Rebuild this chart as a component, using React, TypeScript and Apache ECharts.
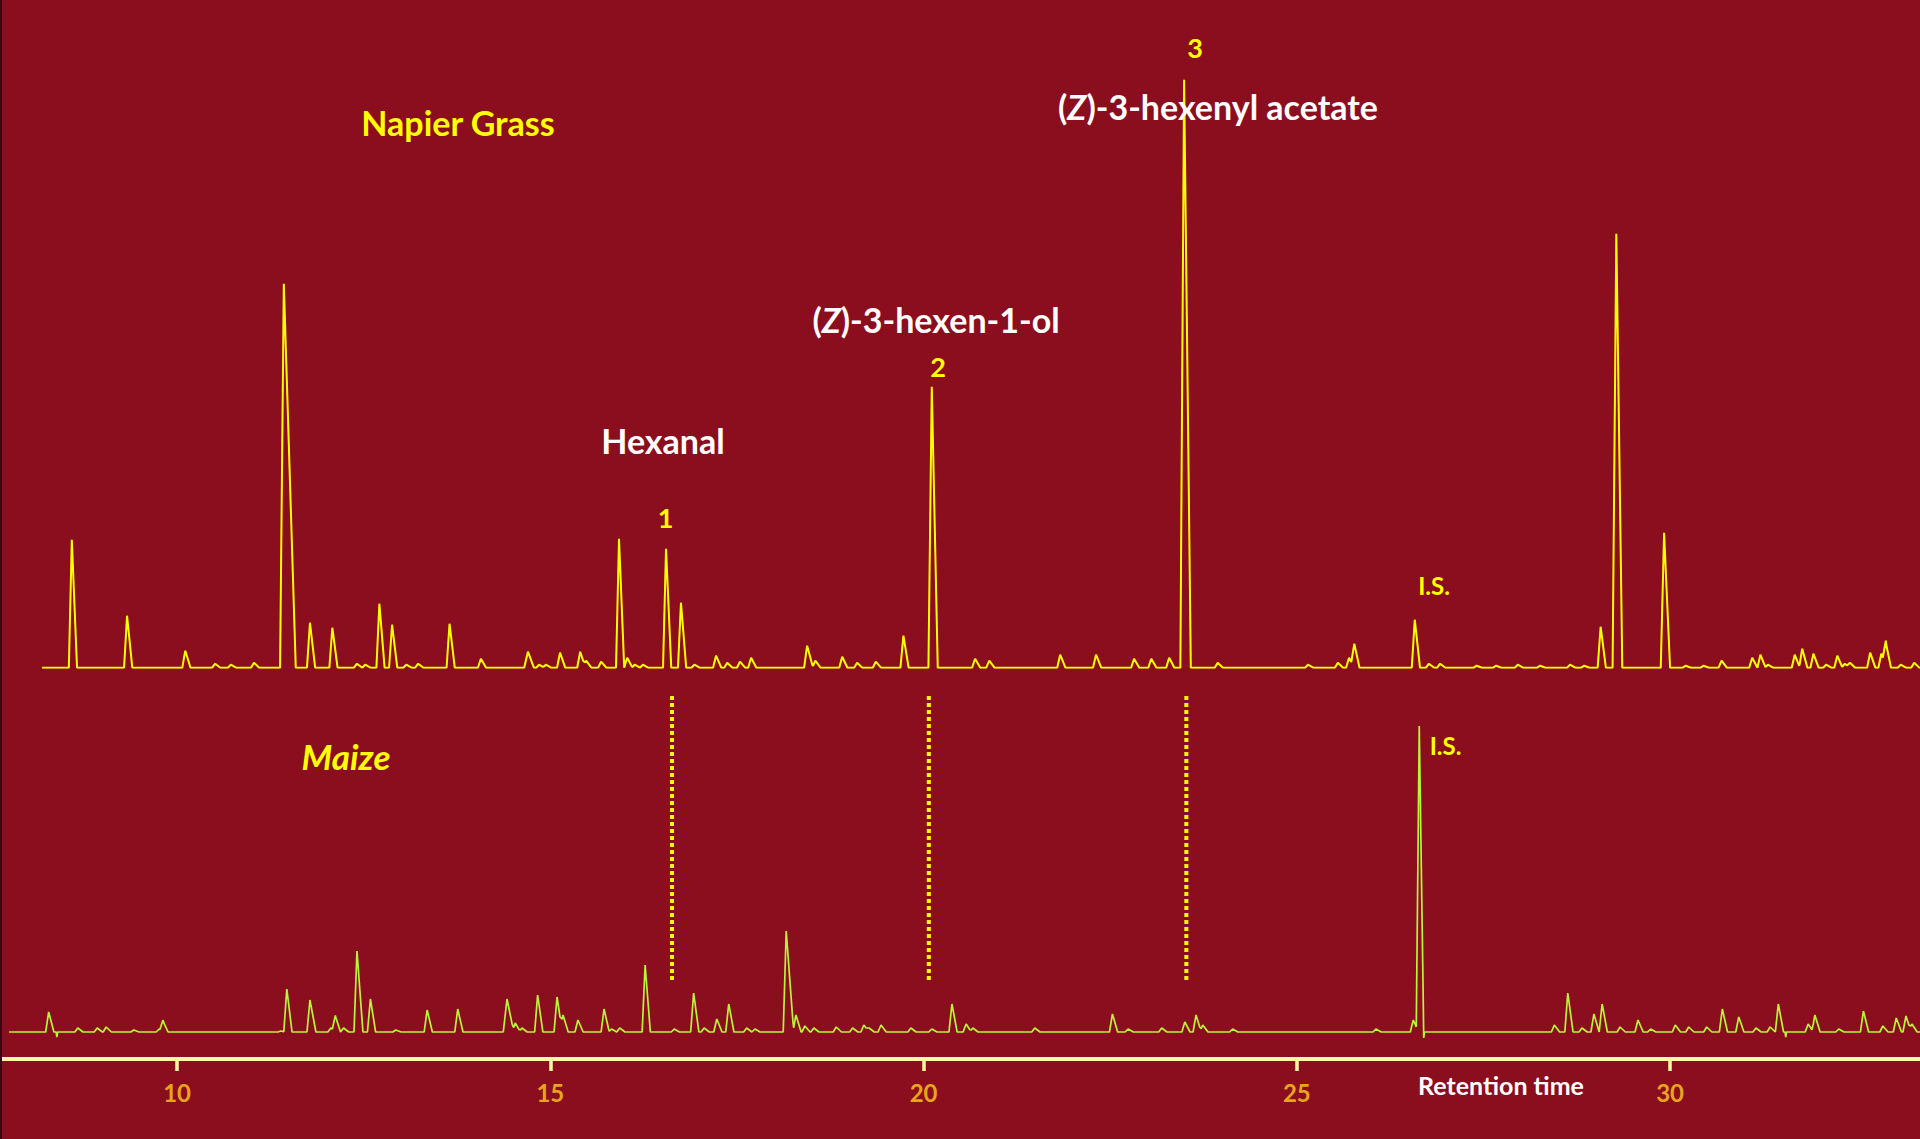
import React, { useEffect, useRef } from "react";
import * as echarts from "echarts";

// Retention-time window shown on the shared axis (minutes)
const RT_MIN = 7.628;
const RT_MAX = 33.348;
const RT_TICKS = [10, 15, 20, 25, 30];

// Napier grass headspace trace: [retention time, peak height, left half-width?, right half-width?]
const napierStart = 8.19;
const napierPeaks: number[][] = [
  [8.59, 128], [9.33, 52], [10.11, 17], [10.51, 4], [10.72, 3], [11.03, 5],
  [11.43, 384, 0.05, 0.16], [11.78, 45], [12.08, 40], [12.41, 4], [12.52, 3],
  [12.71, 64], [12.88, 43], [13.07, 3], [13.23, 4], [13.65, 44], [14.07, 9],
  [14.7, 16, 0.05, 0.08], [14.85, 3], [14.94, 3], [15.13, 15], [15.4, 16],
  [15.48, 7], [15.68, 6], [15.92, 129], [16.03, 10], [16.13, 3], [16.24, 3],
  [16.55, 119], [16.75, 65], [16.93, 3], [17.22, 12], [17.37, 5], [17.54, 6],
  [17.69, 10], [18.44, 22, 0.04, 0.08], [18.55, 7], [18.91, 11], [19.11, 5],
  [19.36, 6], [19.73, 32, 0.04, 0.07], [20.11, 281, 0.045, 0.08], [20.69, 9],
  [20.88, 7], [21.83, 13], [22.31, 13], [22.82, 9], [23.05, 9], [23.29, 10],
  [23.49, 588, 0.05, 0.09], [23.94, 5], [25.15, 3], [25.55, 5], [25.7, 10],
  [25.77, 24, 0.04, 0.07], [26.58, 48], [26.77, 4], [26.92, 4], [27.41, 2],
  [27.67, 2], [27.96, 3], [28.26, 2], [28.66, 3], [28.85, 2], [29.07, 41],
  [29.28, 434, 0.05, 0.08], [29.92, 135, 0.045, 0.08], [30.21, 2], [30.45, 2],
  [30.69, 7], [31.1, 10], [31.21, 13], [31.31, 3], [31.67, 13], [31.77, 19],
  [31.92, 14], [32.09, 3], [32.24, 12], [32.34, 4], [32.41, 5], [32.68, 15],
  [32.83, 14], [32.89, 25], [33.09, 3], [33.27, 5], [33.42, 30],
];

// Maize headspace trace
const maizeStart = 7.75;
const maizePeaks: number[][] = [
  [8.28, 20], [8.39, -5, 0.01, 0.01], [8.67, 4], [8.93, 4], [9.05, 5], [9.42, 2],
  [9.76, 3], [9.81, 11], [11.39, 1], [11.47, 43], [11.78, 32, 0.04, 0.08],
  [12.06, 4], [12.12, 16], [12.23, 4], [12.41, 81, 0.04, 0.08], [12.59, 33],
  [12.93, 2], [13.35, 22], [13.76, 23], [14.42, 33, 0.05, 0.09], [14.53, 9],
  [14.62, 4], [14.83, 37], [15.09, 35], [15.17, 17], [15.37, 12], [15.72, 23],
  [15.82, 3], [15.93, 4], [16.27, 67], [16.66, 3], [16.92, 39], [17.06, 4],
  [17.23, 13], [17.39, 28], [17.63, 4], [17.74, 3], [18.16, 101, 0.04, 0.1],
  [18.29, 17], [18.41, 6], [18.53, 4], [18.83, 5], [19.05, 4], [19.2, 7],
  [19.27, 4], [19.43, 7], [19.83, 4], [20.11, 3], [20.38, 28], [20.57, 8],
  [20.66, 4], [21.49, 4], [22.53, 18], [22.74, 3], [23.19, 4], [23.5, 10],
  [23.65, 17], [23.74, 7], [24.14, 3], [26.06, 3], [26.56, 12],
  [26.64, 306, 0.04, 0.06], [26.7, -6, 0.01, 0.01], [28.45, 7], [28.63, 39],
  [28.82, 4], [28.98, 18], [29.09, 28], [29.33, 5], [29.57, 12], [29.74, 3],
  [30.07, 7], [30.25, 5], [30.49, 5], [30.7, 23], [30.92, 15], [31.15, 4],
  [31.34, 5], [31.45, 28], [31.55, -5, 0.01, 0.01], [31.85, 8], [31.94, 17],
  [32.26, 3], [32.59, 21], [32.85, 6], [33.03, 14], [33.16, 16], [33.24, 8],
];

// Retention times of the three compounds compared between the traces
const markedRt = [16.63, 20.07, 23.52];
const markerSpan = [50, 336];

const BG = "#8B0E1F";
const YELLOW = "#FFFF00";
const LIME = "#B8F53A";
const AXIS = "#FFF8A4";
const TICK_LABEL = "#E8A41C";
const FONT = "Lato";

// Turns a peak list into a polyline: every peak is a narrow triangle on a flat baseline,
// overlapping peaks add up.
function buildTrace(peaks: number[][], start: number, end: number): number[][] {
  const DEF_L = 0.04;
  const DEF_R = 0.07;
  const tris = peaks.map(([rt, h, wl = DEF_L, wr = DEF_R]) => ({ rt, h, a: rt - wl, b: rt + wr }));
  const xs = new Set<number>([start, end]);
  tris.forEach((t) => {
    xs.add(t.a);
    xs.add(t.rt);
    xs.add(t.b);
  });
  const sorted = [...xs].filter((x) => x >= start && x <= end).sort((p, q) => p - q);
  return sorted.map((x) => {
    let y = 0;
    for (const t of tris) {
      if (x > t.a && x < t.b) {
        y += x <= t.rt ? (t.h * (x - t.a)) / (t.rt - t.a) : (t.h * (t.b - x)) / (t.b - t.rt);
      }
    }
    return [x, Math.round(y * 100) / 100];
  });
}

function label(text: string, x: number, y: number, size: number, color: string, italic = false) {
  return {
    type: "text",
    x,
    y,
    silent: true,
    z: 20,
    style: {
      text,
      fill: color,
      font: `${italic ? "italic " : ""}bold ${size}px ${FONT}`,
      textAlign: "center",
      textVerticalAlign: "middle",
      align: "center",
      verticalAlign: "middle",
    },
  };
}

// Compound name with an italic stereo-descriptor "Z"
function compoundLabel(rest: string, x: number, y: number, size: number) {
  const base = { fontFamily: FONT, fontWeight: "bold", fontSize: size, fill: "#FFFFFF" };
  return {
    type: "text",
    x,
    y,
    silent: true,
    z: 20,
    style: {
      text: `{p|(}{z|Z}{p|)${rest}}`,
      rich: { p: base, z: { ...base, fontStyle: "italic" } },
      textAlign: "center",
      textVerticalAlign: "middle",
      align: "center",
      verticalAlign: "middle",
    },
  };
}

export default function App() {
  const ref = useRef<HTMLDivElement>(null);

  useEffect(() => {
    if (!ref.current) return;
    const chart = echarts.init(ref.current, undefined, { renderer: "svg" });

    const napier = buildTrace(napierPeaks, napierStart, 33.5);
    const maize = buildTrace(maizePeaks, maizeStart, 33.5);

    const markerSeries = markedRt.map((rt) => ({
      type: "line",
      xAxisIndex: 1,
      yAxisIndex: 1,
      data: [
        [rt, markerSpan[1]],
        [rt, markerSpan[0]],
      ],
      symbol: "none",
      silent: true,
      lineStyle: { color: YELLOW, width: 4, type: [4, 3], cap: "butt" },
      z: 3,
    }));

    chart.setOption({
      animation: false,
      backgroundColor: BG,
      grid: [
        { left: 0, right: 0, top: 67.7, bottom: 471.3, containLabel: false },
        { left: 0, right: 0, top: 682, bottom: 80, containLabel: false },
      ],
      xAxis: [
        { type: "value", gridIndex: 0, min: RT_MIN, max: RT_MAX, show: false },
        {
          type: "value",
          gridIndex: 1,
          min: RT_MIN,
          max: RT_MAX,
          axisLine: { show: true, onZero: false, lineStyle: { color: AXIS, width: 4 } },
          axisTick: {
            show: true,
            customValues: RT_TICKS,
            length: 12,
            lineStyle: { color: AXIS, width: 3.5 },
          },
          axisLabel: {
            show: true,
            customValues: RT_TICKS,
            color: TICK_LABEL,
            fontFamily: FONT,
            fontWeight: "bold",
            fontSize: 24,
            margin: 21,
          },
          splitLine: { show: false },
        },
      ],
      yAxis: [
        { type: "value", gridIndex: 0, min: 0, max: 600, show: false, splitLine: { show: false } },
        { type: "value", gridIndex: 1, min: -27, max: 350, show: false, splitLine: { show: false } },
      ],
      series: [
        {
          name: "Napier Grass",
          type: "line",
          xAxisIndex: 0,
          yAxisIndex: 0,
          data: napier,
          symbol: "none",
          clip: true,
          lineStyle: { color: YELLOW, width: 2 },
          z: 5,
        },
        {
          name: "Maize",
          type: "line",
          xAxisIndex: 1,
          yAxisIndex: 1,
          data: maize,
          symbol: "none",
          clip: true,
          lineStyle: { color: LIME, width: 1.7 },
          z: 5,
        },
        ...markerSeries,
      ],
      graphic: [
        { type: "rect", shape: { x: 0, y: 0, width: 2, height: 1139 }, style: { fill: "#3A0710" }, silent: true, z: 30 },
        label("Napier Grass", 458, 122, 34, YELLOW),
        label("Maize", 346, 756, 35, YELLOW, true),
        label("Hexanal", 663, 440, 34, "#FFFFFF"),
        compoundLabel("-3-hexen-1-ol", 936, 319, 34),
        compoundLabel("-3-hexenyl acetate", 1218, 106, 34),
        label("1", 665.5, 517.5, 27, YELLOW),
        label("2", 938, 366.5, 27, YELLOW),
        label("3", 1195, 47.5, 27, YELLOW),
        label("I.S.", 1434, 585, 24, YELLOW),
        label("I.S.", 1445.5, 745.5, 24, YELLOW),
        label("Retention time", 1501, 1085, 25, "#FFFFFF"),
      ],
    });

    return () => chart.dispose();
  }, []);

  return (
    <div
      ref={ref}
      style={{ position: "fixed", left: 0, top: 0, width: 1920, height: 1139 }}
    />
  );
}
